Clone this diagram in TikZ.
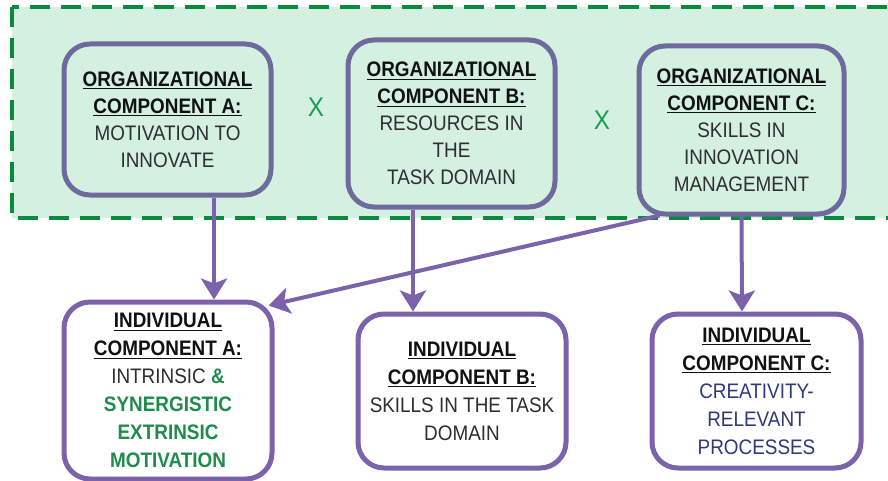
\documentclass[tikz,border=0pt]{standalone}
\usepackage{fontspec}
\setmainfont{Liberation Sans}[FakeStretch=0.9]
\usetikzlibrary{arrows.meta}

\definecolor{bandfill}{HTML}{D4F0E0}
\definecolor{banddash}{HTML}{0A8A3C}
\definecolor{orgline}{HTML}{6E6A9C}
\definecolor{indline}{HTML}{7B62AA}
\definecolor{bodygray}{HTML}{2E2E2E}
\definecolor{headink}{HTML}{111111}
\definecolor{synergy}{HTML}{1E8C4C}
\definecolor{navy}{HTML}{2E3A78}
\definecolor{timesgreen}{HTML}{1F9A52}

% bold heading with a rule underneath
\newcommand\hd[1]{{\color{headink}\sbox0{\bfseries #1}\rlap{\usebox0}\rule[-3.2pt]{\wd0}{1.3pt}}}
\newcommand\bd[1]{{\color{bodygray}#1}}

\tikzset{
  orgbox/.style={draw=orgline, line width=5pt, rounded corners=26pt, fill=bandfill,
    align=center, inner sep=0pt, font=\fontsize{21}{27}\selectfont},
  indbox/.style={draw=indline, line width=5pt, rounded corners=26pt, fill=white,
    align=center, inner sep=0pt, font=\fontsize{21}{28}\selectfont},
  link/.style={draw=indline, line width=4pt, -{Stealth[length=21pt,width=26pt,inset=5pt]}},
  times/.style={text=timesgreen, inner sep=0pt, font=\fontsize{27}{27}\selectfont},
}

\begin{document}
\begin{tikzpicture}[x=1pt, y=-1pt]
  \useasboundingbox (0,0) rectangle (888,481);
  \fill[white] (0,0) rectangle (888,481);

  % organizational band
  \draw[banddash, fill=bandfill, line width=4pt, dash pattern=on 20pt off 11pt]
    (12,7) rectangle (905,218);

  % organizational components
  \node[orgbox, minimum width=207pt, minimum height=151pt] (orgA) at (167.5,119.5)
    {\hd{ORGANIZATIONAL}\\\hd{COMPONENT A:}\\\bd{MOTIVATION TO}\\\bd{INNOVATE}};
  \node[orgbox, minimum width=207pt, minimum height=167pt] (orgB) at (451.5,123.5)
    {\hd{ORGANIZATIONAL}\\\hd{COMPONENT B:}\\\bd{RESOURCES IN}\\\bd{THE}\\\bd{TASK DOMAIN}};
  \node[orgbox, minimum width=205pt, minimum height=168pt] (orgC) at (741.5,130)
    {\hd{ORGANIZATIONAL}\\\hd{COMPONENT C:}\\\bd{SKILLS IN}\\\bd{INNOVATION}\\\bd{MANAGEMENT}};

  \node[times] (xAB) at (316,107) {X};
  \node[times] (xBC) at (602,120) {X};

  % individual components
  \node[indbox, minimum width=208pt, minimum height=177pt] (indA) at (168,390.5)
    {\hd{INDIVIDUAL}\\\hd{COMPONENT A:}\\\bd{INTRINSIC} {\color{synergy}\bfseries\&}\\
     {\color{synergy}\bfseries SYNERGISTIC}\\{\color{synergy}\bfseries EXTRINSIC}\\
     {\color{synergy}\bfseries MOTIVATION}};
  \node[indbox, minimum width=208pt, minimum height=154pt] (indB) at (462,391)
    {\hd{INDIVIDUAL}\\\hd{COMPONENT B:}\\\bd{SKILLS IN THE TASK}\\\bd{DOMAIN}};
  \node[indbox, minimum width=209pt, minimum height=154pt] (indC) at (756.5,391)
    {\hd{INDIVIDUAL}\\\hd{COMPONENT C:}\\{\color{navy}CREATIVITY-}\\{\color{navy}RELEVANT}\\{\color{navy}PROCESSES}};

  % influences
  \draw[link] ([xshift=46.5pt]orgA.south) -- ([xshift=46pt]indA.north);
  \draw[link] ([xshift=-38.5pt]orgB.south) -- ([xshift=-49pt]indB.north);
  \draw[link] (orgC.south) -- ([xshift=-14.5pt]indC.north);
  \draw[link] ([xshift=23pt,yshift=1pt]orgC.south west) -- ([xshift=-6pt,yshift=-6pt]indA.north east);
\end{tikzpicture}
\end{document}
